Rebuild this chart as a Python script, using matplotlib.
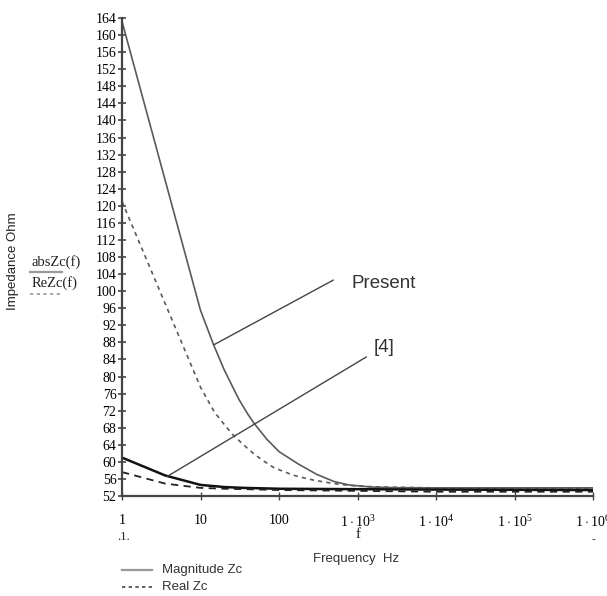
import numpy as np
import matplotlib
matplotlib.use("Agg")
import matplotlib.pyplot as plt

# ---- data ----
f_mag_present = [1, 10, 14.7, 20, 25, 30.7, 40, 47.8, 70, 100, 176, 300, 500, 772, 1500, 3000,
                 1e4, 1e5, 1e6]
mag_present = [163.2, 95.5, 87.4, 81.6, 78.0, 74.7, 71.2, 69.1, 65.3, 62.4, 59.5, 57.1, 55.4,
               54.6, 54.1, 53.95, 53.9, 53.9, 53.9]

f_re_present = [1, 10, 15, 20, 26, 32.6, 40, 50, 65, 86.7, 120, 150, 200, 280, 400, 600, 1030,
                2000, 1e4, 1e5, 1e6]
re_present = [121, 77.5, 71.7, 68.8, 66.3, 64.6, 63.1, 61.6, 60.1, 58.6, 57.6, 56.9, 56.3, 55.7,
              55.2, 54.7, 54.3, 54.1, 53.9, 53.9, 53.9]

f_mag_ref4 = [1, 3.56, 10, 20, 35.5, 100, 1000, 1e4, 1e6]
mag_ref4 = [61.0, 56.8, 54.6, 54.1, 53.9, 53.7, 53.6, 53.5, 53.4]

f_re_ref4 = [1, 3.56, 10, 20, 35.5, 100, 1000, 1e4, 1e6]
re_ref4 = [57.6, 54.9, 53.9, 53.7, 53.6, 53.4, 53.2, 53.0, 53.0]

yticks = list(range(52, 165, 4))
xticks = [1, 10, 100, 1e3, 1e4, 1e5, 1e6]
xticklabels = ["1", "10", "100", r"$1\cdot10^{3}$", r"$1\cdot10^{4}$",
               r"$1\cdot10^{5}$", r"$1\cdot10^{6}$"]

plt.rcParams['mathtext.fontset'] = 'custom'
plt.rcParams['mathtext.rm'] = 'Liberation Serif'
plt.rcParams['mathtext.it'] = 'Liberation Serif'

fig = plt.figure(figsize=(6.07, 5.96), dpi=100)
W, H = 607, 596
ax = fig.add_axes([122 / W, 1 - 496 / H, (593 - 122) / W, (496 - 18) / H])

gray = '#5a5a5a'
ax.plot(f_mag_present, mag_present, color=gray, lw=1.2)
ax.plot(f_re_present, re_present, color=gray, lw=1.2, linestyle=(0, (2.5, 2.5)))
ax.plot(f_mag_ref4, mag_ref4, color='#111111', lw=1.8)
ax.plot(f_re_ref4, re_ref4, color='#222222', lw=1.3, linestyle=(0, (4, 3)))

ax.set_xscale('log')
ax.set_xlim(1, 1e6)
ax.set_ylim(52, 164)
ax.set_yticks(yticks)
ax.set_yticklabels([str(t) for t in yticks], family='Liberation Serif', fontsize=10)
ax.set_xticks(xticks)
ax.set_xticklabels(xticklabels, family='Liberation Serif', fontsize=10)
ax.minorticks_off()
ax.tick_params(axis='y', direction='inout', length=6, width=1.2, color='#444444', pad=1)
ax.tick_params(axis='x', direction='inout', length=6, width=1.0, color='#444444', pad=10)

for s in ['top', 'right']:
    ax.spines[s].set_visible(False)
for s in ['left', 'bottom']:
    ax.spines[s].set_color('#444444')
    ax.spines[s].set_linewidth(1.6)

# annotations
ax.annotate('', xy=(14.7, 87.4), xytext=(493, 102.6),
            arrowprops=dict(arrowstyle='-', color='#444444', lw=1.0, shrinkA=0, shrinkB=0))
ax.text(840, 101.9, 'Present', family='Liberation Sans', fontsize=13.5, color='#333333',
        va='center', ha='left')
ax.annotate('', xy=(3.78, 56.6), xytext=(1301, 84.6),
            arrowprops=dict(arrowstyle='-', color='#444444', lw=1.0, shrinkA=0, shrinkB=0))
ax.text(1611, 86.9, '[4]', family='Liberation Sans', fontsize=13.5, color='#333333',
        va='center', ha='left')

# left-side legend (Mathcad style)
fig.text(13 / W, 1 - 261 / H, 'Impedance Ohm', rotation=90, family='Liberation Sans',
         fontsize=9.5, va='center', ha='center', color='#222222')
fig.text(32 / W, 1 - 262 / H, 'absZc(f)', family='Liberation Serif', fontsize=10.5,
         va='center', ha='left', color='#222222')
fig.add_artist(plt.Line2D([30 / W, 62 / W], [1 - 272 / H, 1 - 272 / H], color='#999999', lw=1.6))
fig.text(32 / W, 1 - 283 / H, 'ReZc(f)', family='Liberation Serif', fontsize=10.5,
         va='center', ha='left', color='#222222')
fig.add_artist(plt.Line2D([30 / W, 62 / W], [1 - 294 / H, 1 - 294 / H], color='#999999', lw=1.2,
                          linestyle=(0, (2, 2))))

# below axis marks
fig.text(123 / W, 1 - 537 / H, '.1.', family='Liberation Serif', fontsize=9,
         va='center', ha='center', color='#222222')
fig.text(358 / W, 1 - 535 / H, 'f', family='Liberation Serif', fontsize=11,
         va='center', ha='center', color='#222222')
fig.text(593 / W, 1 - 540 / H, '-', family='Liberation Serif', fontsize=8,
         va='center', ha='center', color='#222222')
fig.text(313 / W, 1 - 559 / H, 'Frequency  Hz', family='Liberation Sans', fontsize=9.5,
         va='center', ha='left', color='#333333')

# bottom legend
fig.add_artist(plt.Line2D([122 / W, 152 / W], [1 - 570 / H, 1 - 570 / H], color='#999999', lw=1.6))
fig.text(162 / W, 1 - 570 / H, 'Magnitude Zc', family='Liberation Sans', fontsize=9.5,
         va='center', ha='left', color='#333333')
fig.add_artist(plt.Line2D([122 / W, 152 / W], [1 - 587 / H, 1 - 587 / H], color='#444444', lw=1.2,
                          linestyle=(0, (2, 2))))
fig.text(162 / W, 1 - 587 / H, 'Real Zc', family='Liberation Sans', fontsize=9.5,
         va='center', ha='left', color='#333333')

fig.savefig('out.png', dpi=100)
